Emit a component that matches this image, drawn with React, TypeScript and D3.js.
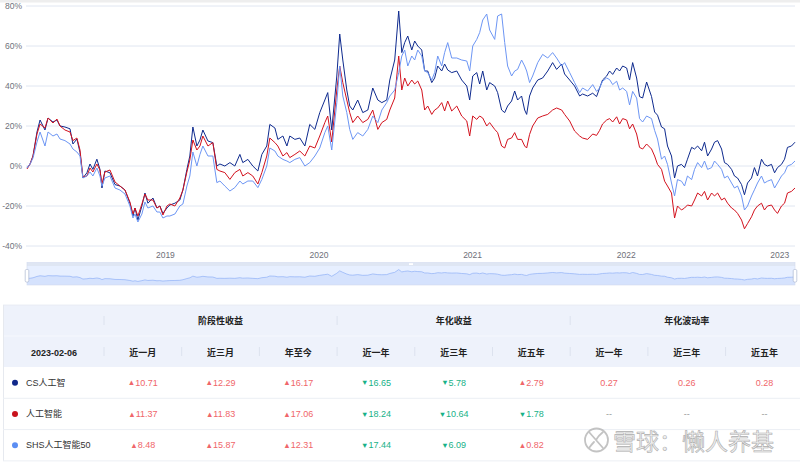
import React from 'react';
import * as d3 from 'd3';

// ---- time axis (decimal years) ----
const years: number[] = [
  2018.099, 2018.119, 2018.138, 2018.164, 2018.184, 2018.216, 2018.236, 2018.268, 2018.294, 2018.314,
  2018.346, 2018.379, 2018.398, 2018.424, 2018.444, 2018.463, 2018.489, 2018.509, 2018.528, 2018.554,
  2018.574, 2018.587, 2018.606, 2018.639, 2018.672, 2018.704, 2018.737, 2018.769, 2018.789, 2018.802,
  2018.821, 2018.847, 2018.867, 2018.886, 2018.919, 2018.945, 2018.964, 2018.984, 2019.010, 2019.029,
  2019.062, 2019.094, 2019.114, 2019.140, 2019.159, 2019.179, 2019.205, 2019.225, 2019.244, 2019.277,
  2019.309, 2019.335, 2019.355, 2019.387, 2019.420, 2019.452, 2019.485, 2019.504, 2019.537, 2019.569,
  2019.602, 2019.628, 2019.660, 2019.680, 2019.713, 2019.732, 2019.765, 2019.791, 2019.810, 2019.843,
  2019.875, 2019.908, 2019.940, 2019.973, 2020.005, 2020.038, 2020.057, 2020.083, 2020.116, 2020.135,
  2020.155, 2020.181, 2020.200, 2020.220, 2020.252, 2020.285, 2020.318, 2020.350, 2020.383, 2020.409,
  2020.441, 2020.461, 2020.493, 2020.519, 2020.539, 2020.558, 2020.578, 2020.604, 2020.623, 2020.643,
  2020.669, 2020.688, 2020.708, 2020.734, 2020.753, 2020.773, 2020.799, 2020.818, 2020.838, 2020.864,
  2020.897, 2020.929, 2020.962, 2020.981, 2021.001, 2021.027, 2021.046, 2021.066, 2021.092, 2021.111,
  2021.144, 2021.163, 2021.189, 2021.209, 2021.228, 2021.254, 2021.274, 2021.293, 2021.319, 2021.339,
  2021.352, 2021.371, 2021.391, 2021.424, 2021.456, 2021.489, 2021.521, 2021.547, 2021.580, 2021.599,
  2021.632, 2021.664, 2021.697, 2021.716, 2021.749, 2021.782, 2021.807, 2021.827, 2021.846, 2021.873,
  2021.892, 2021.912, 2021.938, 2021.957, 2021.977, 2022.003, 2022.022, 2022.042, 2022.068, 2022.087,
  2022.107, 2022.133, 2022.165, 2022.185, 2022.204, 2022.230, 2022.250, 2022.269, 2022.295, 2022.315,
  2022.334, 2022.360, 2022.380, 2022.399, 2022.426, 2022.445, 2022.465, 2022.491, 2022.510, 2022.530,
  2022.556, 2022.575, 2022.595, 2022.621, 2022.640, 2022.660, 2022.686, 2022.705, 2022.725, 2022.751,
  2022.770, 2022.790, 2022.816, 2022.835, 2022.855, 2022.881, 2022.900, 2022.920, 2022.946, 2022.966,
  2022.985, 2023.011, 2023.031, 2023.050, 2023.076, 2023.099,
];

// ---- cumulative return (%) ----
const csAI: number[] = [
  -1, 1, 5, 17, 23, 18, 24, 22, 23, 20,
  19.5, 18.6, 11, 13.5, 6.8, -6, -3.4, 1, -1.7, 3.4,
  -1.7, -11, -2.5, -3.4, -9.3, -10, -12, -18.6, -25, -21,
  -27, -20, -13.5, -18.6, -16, -21, -20, -23.7, -21, -19.5,
  -18.6, -17, -12, -1.7, 5, 19.5, 10, 13, 18, 12.5,
  11.7, 0, 1, 0, 1.7, 0, 5.8, 1.7, 3.3, 0,
  -2.5, 5.8, 10, 20.8, 19, 13.3, 15, 10, 15, 13.3,
  14, 10, 20.8, 18.3, 26.7, 33, 36.7, 18, 45, 66,
  53, 38, 30, 28, 33, 26.7, 28, 39, 33, 31.7,
  33, 43, 53, 77.5, 56.7, 61.7, 65, 58, 62.5, 60,
  58, 47.5, 47.5, 41.7, 44, 50, 47.5, 51, 48, 46.7,
  47.5, 43, 40, 33, 45, 46.7, 41, 47.5, 38, 41.7,
  40, 36.7, 28, 26.7, 30, 32.5, 37.5, 33, 35, 28,
  25.8, 35, 39, 43, 44, 47.5, 51.7, 48.3, 51, 46,
  43, 40, 35, 36, 35, 36.4, 34.7, 39, 43, 45,
  47.5, 45.8, 49, 47.5, 50, 49, 43, 51.7, 44, 34.7,
  34, 42, 34.7, 27, 25.4, 19.5, 18.6, 10, 5, -6,
  0, 0.8, -0.8, 3.4, 9.3, 8.5, 10, 7.6, 11.9, 5,
  8.5, 11.9, 12.7, 8.5, 1.7, 0.8, -1.7, -5, -6, -9.3,
  -14.4, -8.5, -6, -0.8, -5, 3.4, 0.8, 0, 0.8, -3.4,
  -0.8, 0.8, 3.4, 9.3, 10, 11.9,
];

const ai: number[] = [
  -1.5, 1, 5, 16, 21, 19, 24, 21.5, 23.5, 20,
  18, 17, 12.7, 14, 8, -5.5, -5, -1, -3, 1,
  -2, -9, -3, -2, -8, -10, -12, -18, -24, -21,
  -25, -19, -14, -17, -17, -21, -20, -24.5, -20, -19,
  -20, -16, -12, -3, 3, 13, 8, 10, 15, 10,
  11.7, -1.7, -2.5, -3.3, -6.7, -3.3, -1.7, -5, -3.3, -5,
  -9, -3.3, 5, 14, 11.7, 10, 5, 6.7, 4.2, 5.8,
  7.5, 5, 10, 9, 15, 21.7, 25, 12, 38, 50,
  41.7, 33, 26.7, 21.7, 25, 21.7, 23.3, 28, 18.3, 21.7,
  23.3, 28, 34, 55, 38, 44, 40, 43, 41, 42.5,
  38, 28, 30, 25.8, 28, 29, 31.7, 27.5, 32.5, 27.5,
  30, 25, 22.5, 15, 25, 23.3, 25, 24, 20, 21.7,
  18.3, 16.7, 10, 9, 13.3, 14, 16.7, 13.3, 13.3, 10,
  9, 15.8, 20, 24, 25, 25.8, 28, 29, 28, 25.8,
  22.5, 17.5, 15, 14, 13.3, 16, 15.3, 17.8, 21, 23,
  23.7, 22, 24.6, 21, 23.7, 23, 18.6, 21, 16, 9.3,
  8.5, 11, 8.5, 5, 0.8, -1.7, -7.6, -10, -13.5, -26,
  -20, -22, -21, -19.5, -20, -17, -13.5, -15, -12.7, -17,
  -13.5, -15, -13.5, -17, -16, -18.6, -21, -22, -23.7, -27,
  -31.4, -28.8, -25.4, -22, -20, -18.6, -22, -20, -19.5, -22,
  -23.7, -20, -18.6, -13.5, -12.7, -11,
];

const shsAI50: number[] = [
  -1, 1, 4, 12, 17, 10, 17, 15, 16, 13.5,
  12.7, 11, 8.5, 7, 5, -6, -5, -3, -5, -1,
  -5, -10, -6, -5, -11, -12, -14, -20, -26, -24,
  -28, -24, -18, -21, -20, -23, -23, -26, -25, -25,
  -24, -20, -19, -10, -5, 7, 0, 5.8, 10, 5,
  5, -8.3, -7.5, -10, -12.5, -10.8, -7.5, -9, -7.5, -7.5,
  -10.8, -6.7, 0, 9, 7.5, 5, 3.3, 2.5, 1.7, 3.3,
  4.2, 0, 1.7, 5, 9, 16.7, 20, 8, 31.7, 50,
  35, 26.7, 18.3, 13.3, 16.7, 15, 18.3, 25, 21.7, 28,
  31.7, 35, 38, 46.7, 55, 58, 50, 55, 53, 58,
  55, 47.5, 46.7, 43, 46.7, 55, 50, 56.7, 61.7, 54,
  54, 53, 52.5, 47.5, 60, 63.3, 66.7, 73, 76, 68,
  63.3, 75, 76, 61.7, 50, 45, 47.5, 48.3, 53, 50,
  47.5, 41.7, 45, 51.7, 55.8, 54, 56.7, 54, 50, 51.7,
  46.7, 41.7, 36.7, 39, 37.5, 40.7, 37.3, 39, 42.4, 44,
  43.2, 40.7, 42.4, 38, 39, 37.3, 30.5, 37.3, 34, 23.7,
  22, 25, 23.7, 17.8, 13.5, 3.4, 5, 0.8, -8.5, -15,
  -6.8, -7.6, -10, -5, -6.8, -1.7, 1.7, -0.8, 2.5, -1.7,
  -0.8, 2.5, 0.8, -1.7, -6, -5, -8.5, -11, -10, -15,
  -22, -20, -15, -11.9, -8.5, -5, -8.5, -7.6, -6.8, -11,
  -8.5, -5, -3.4, 0, 0.8, 2.5,
];

const seriesNames = ['CS人工智', '人工智能', 'SHS人工智能50'];
const seriesColors = ['#0e2a8e', '#d3121e', '#6d96f4'];
const dotColors = ['#10288a', '#c8121c', '#5b8ef3'];

const yTicks = [-40, -20, 0, 20, 40, 60, 80];
const xTicks = [2019, 2020, 2021, 2022, 2023];

// ---- table ----
const asOfDate = '2023-02-06';
const groupHeaders = ['阶段性收益', '年化收益', '年化波动率'];
const periodHeaders = ['近一月', '近三月', '年至今', '近一年', '近三年', '近五年', '近一年', '近三年', '近五年'];
const stageReturns: number[][] = [
  [10.71, 12.29, 16.17],
  [11.37, 11.83, 17.06],
  [8.48, 15.87, 12.31],
];
const annualReturns: number[][] = [
  [-16.65, -5.78, 2.79],
  [-18.24, -10.64, -1.78],
  [-17.44, -6.09, 0.82],
];
const annualVol: (number | null | undefined)[][] = [
  [0.27, 0.26, 0.28],
  [null, null, null],
  [undefined, undefined, undefined],
];

const UP = '#f0666a';
const DOWN = '#17b187';
const FONT = '"Liberation Sans", Arial, "Noto Sans CJK SC", sans-serif';

export default function App() {
  const x = d3.scaleLinear().domain([years[0], years[years.length - 1]]).range([27, 795]);
  const y = d3.scaleLinear().domain([-40, 80]).range([246, 6]);
  const series = [csAI, ai, shsAI50];
  const lineGen = d3
    .line<number>()
    .x((_, i) => x(years[i]))
    .y((d) => y(d));

  // slider (data zoom) shadow
  const sTop = 266;
  const sBot = 285;
  const ext = d3.extent(csAI) as [number, number];
  const pad = (ext[1] - ext[0]) * 0.3;
  const sy = d3.scaleLinear().domain([ext[0] - pad, ext[1] + pad]).range([sBot, sTop]);
  const sArea = d3
    .area<number>()
    .x((_, i) => x(years[i]))
    .y0(sBot)
    .y1((d) => sy(d));
  const sLine = d3
    .line<number>()
    .x((_, i) => x(years[i]))
    .y((d) => sy(d));

  // table layout
  const tL = 3;
  const tR = 800;
  const tTop = 305;
  const hRow = 31;
  const bRow = 31.3;
  const c0 = 104;
  const colW = 77.7;
  const colCenter = (j: number) => c0 + colW * j + colW / 2;
  const bodyTop = tTop + hRow * 2;

  const fmtRet = (v: number, cx: number, cy: number, key: string) => (
    <text key={key} x={cx} y={cy} textAnchor="middle" dominantBaseline="central" fontSize={9} fill={v >= 0 ? UP : DOWN} fontFamily={FONT}>
      <tspan fontSize={7.5} dy={-0.3}>{v >= 0 ? '▲' : '▼'}</tspan>
      <tspan dy={0.3}>{Math.abs(v).toFixed(2)}</tspan>
    </text>
  );

  return (
    <div style={{ position: 'absolute', left: 0, top: 0, width: 800, height: 467, background: '#fff' }}>
      <svg width={800} height={467} style={{ display: 'block' }} fontFamily={FONT}>
        <rect x={0} y={0} width={800} height={467} fill="#fff" />
        <rect x={0} y={0} width={800} height={2.5} fill="#eeeeee" />

        {/* grid + y labels */}
        {yTicks.map((t) => (
          <g key={'y' + t}>
            <line x1={26} x2={795} y1={y(t)} y2={y(t)} stroke="#e0e6f1" strokeWidth={1} />
            <text x={22} y={y(t)} textAnchor="end" dominantBaseline="central" fontSize={8.5} fill="#70737c">
              {t + '%'}
            </text>
          </g>
        ))}
        {xTicks.map((t) => (
          <text key={'x' + t} x={x(t)} y={254.5} textAnchor="middle" dominantBaseline="central" fontSize={8.5} fill="#6e7079">
            {t}
          </text>
        ))}

        {/* series lines */}
        {series.map((s, k) => (
          <path key={'s' + k} d={lineGen(s) || ''} fill="none" stroke={seriesColors[k]} strokeWidth={1} strokeLinejoin="round" />
        ))}

        {/* data zoom slider */}
        <rect x={27} y={262.5} width={768} height={3.5} fill="#d2dbee" opacity={0.7} />
        <rect x={27} y={sTop} width={768} height={sBot - sTop} fill="rgb(135,175,255)" fillOpacity={0.2} />
        <path d={sArea(csAI) || ''} fill="#8fb0f7" fillOpacity={0.2} />
        <path d={sLine(csAI) || ''} fill="none" stroke="#8fb0f7" strokeWidth={0.7} />
        <rect x={27} y={262.5} width={768} height={sBot - 262.5} fill="none" stroke="#d2dbee" strokeWidth={0.6} />
        <rect x={409} y={263.2} width={4} height={1.8} fill="#ffffff" />
        {[27, 795].map((hx) => (
          <rect key={'h' + hx} x={hx - 1.8} y={269.5} width={3.6} height={12.5} rx={1.2} fill="#fff" stroke="#acb8d1" strokeWidth={0.7} />
        ))}

        {/* table header */}
        <rect x={tL} y={tTop} width={tR - tL} height={hRow * 2} fill="#eef2fb" />
        <line x1={tL} x2={tR} y1={tTop + hRow} y2={tTop + hRow} stroke="#f6f8fd" strokeWidth={1} />
        <line x1={tL} x2={tR} y1={tTop} y2={tTop} stroke="#e6eaf2" strokeWidth={0.8} />
        <line x1={tL + 0.5} x2={tL + 0.5} y1={tTop} y2={bodyTop + bRow * 3} stroke="#e6e9ef" strokeWidth={1} />
        {[0, 3, 6].map((j) => (
          <line key={'gd' + j} x1={c0 + colW * j} x2={c0 + colW * j} y1={tTop + 11} y2={tTop + 20} stroke="#dce2ee" strokeWidth={1} />
        ))}
        {periodHeaders.map((_, j) => (
          <line key={'pd' + j} x1={c0 + colW * j} x2={c0 + colW * j} y1={tTop + hRow + 11} y2={tTop + hRow + 20} stroke="#dce2ee" strokeWidth={1} />
        ))}
        {groupHeaders.map((g, j) => (
          <text key={'g' + j} x={c0 + colW * (3 * j + 1.5)} y={tTop + hRow / 2 + 0.5} textAnchor="middle" dominantBaseline="central" fontSize={9} fontWeight={700} fill="#222">
            {g}
          </text>
        ))}
        <text x={(tL + c0) / 2 + 0.5} y={tTop + hRow * 1.5 + 1} textAnchor="middle" dominantBaseline="central" fontSize={9} fontWeight={700} fill="#222">
          {asOfDate}
        </text>
        {periodHeaders.map((p, j) => (
          <text key={'p' + j} x={colCenter(j)} y={tTop + hRow * 1.5 + 1} textAnchor="middle" dominantBaseline="central" fontSize={9} fontWeight={700} fill="#222">
            {p}
          </text>
        ))}

        {/* table body */}
        {seriesNames.map((name, r) => {
          const cy = bodyTop + bRow * r + bRow / 2;
          return (
            <g key={'r' + r}>
              <line x1={tL} x2={tR} y1={bodyTop + bRow * (r + 1)} y2={bodyTop + bRow * (r + 1)} stroke="#eceff4" strokeWidth={1} />
              <circle cx={15} cy={cy} r={3} fill={dotColors[r]} />
              <text x={26} y={cy} dominantBaseline="central" fontSize={9} fill="#333">
                {name}
              </text>
              {stageReturns[r].map((v, j) => fmtRet(v, colCenter(j), cy, 'sr' + r + j))}
              {annualReturns[r].map((v, j) => fmtRet(v, colCenter(j + 3), cy, 'ar' + r + j))}
              {annualVol[r].map((v, j) =>
                v === undefined ? null : (
                  <text key={'v' + r + j} x={colCenter(j + 6)} y={cy} textAnchor="middle" dominantBaseline="central" fontSize={9} fill={v === null ? '#999' : UP}>
                    {v === null ? '--' : v.toFixed(2)}
                  </text>
                )
              )}
            </g>
          );
        })}

        {/* watermark */}
        <g opacity={0.8}>
          <circle cx={596.5} cy={440} r={11.5} fill="#fff" fillOpacity={0.6} stroke="#b5b5b5" strokeWidth={1.8} />
          <path d="M589,432 Q596,440 603,448 M603,432 Q598,436 596,440 M589,448 Q592,444 594,442" fill="none" stroke="#b5b5b5" strokeWidth={1.8} strokeLinecap="round" />
          <text x={613} y={450} fontSize={23} fontFamily='"Noto Sans CJK SC", sans-serif' fill="#ececec" stroke="#9a9a9a" strokeWidth={0.6}>
            雪球：懒人养基
          </text>
        </g>
      </svg>
    </div>
  );
}
